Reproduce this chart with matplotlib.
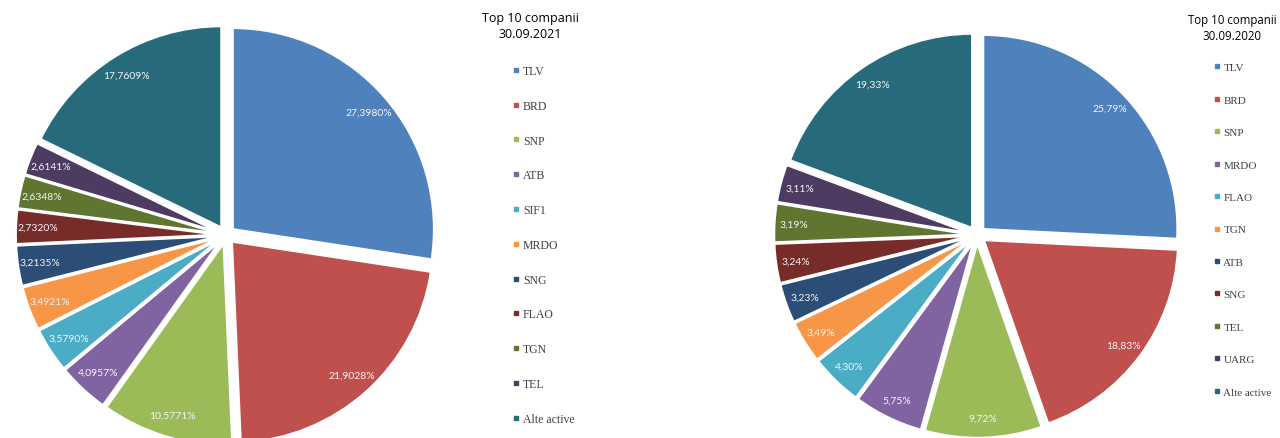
import matplotlib
matplotlib.use("Agg")
import matplotlib.pyplot as plt
from matplotlib.lines import Line2D

# Top 10 companii la 30.09.2021
labels_2021 = ['TLV', 'BRD', 'SNP', 'ATB', 'SIF1', 'MRDO', 'SNG', 'FLAO', 'TGN', 'TEL', 'Alte active']
values_2021 = [27.3980, 21.9028, 10.5771, 4.0957, 3.5790, 3.4921, 3.2135, 2.7320, 2.6348, 2.6141, 17.7609]
pct_2021 = ['27,3980%', '21,9028%', '10,5771%', '4,0957%', '3,5790%', '3,4921%',
            '3,2135%', '2,7320%', '2,6348%', '2,6141%', '17,7609%']

# Top 10 companii la 30.09.2020
labels_2020 = ['TLV', 'BRD', 'SNP', 'MRDO', 'FLAO', 'TGN', 'ATB', 'SNG', 'TEL', 'UARG', 'Alte active']
values_2020 = [25.79, 18.83, 9.72, 5.75, 4.30, 3.49, 3.23, 3.24, 3.19, 3.11, 19.33]
pct_2020 = ['25,79%', '18,83%', '9,72%', '5,75%', '4,30%', '3,49%',
            '3,23%', '3,24%', '3,19%', '3,11%', '19,33%']

# Excel 2007 palette
colors = ['#4F81BD', '#C0504D', '#9BBB59', '#8064A2', '#4BACC6', '#F79646',
          '#2C4D75', '#772C2A', '#5F7530', '#4D3B62', '#276A7C']

W, H = 1280, 439
fig = plt.figure(figsize=(W / 100, H / 100), dpi=100)


def make_pie(values, pct, cx, cy, r, pctdist):
    """Draw one exploded pie centred at pixel (cx, cy from top) with radius r px"""
    lim = 1.15
    size = 2 * lim * r
    ax = fig.add_axes([(cx - size / 2) / W, (H - cy - size / 2) / H, size / W, size / H])
    wedges, texts = ax.pie(values, colors=colors, startangle=90, counterclock=False,
                           explode=[0.045] * len(values), labels=pct, labeldistance=pctdist,
                           wedgeprops=dict(edgecolor='white', linewidth=1.4),
                           textprops=dict(color='#F4F4F4', fontsize=7.5, family='Lato'))
    for t in texts:
        t.set_horizontalalignment('center')
        t.set_verticalalignment('center')
    ax.set_xlim(-lim, lim)
    ax.set_ylim(-lim, lim)
    ax.set_aspect('equal')
    ax.axis('off')
    return wedges


def make_legend(labels, title, x, y_title, y_first, spacing_px, fontsize, title_x, title_fs):
    fig.text(title_x / W, 1 - y_title / H, title, ha='center', va='top',
             fontsize=title_fs, family='Open Sans', linespacing=1.25)
    handles = [Line2D([], [], marker='s', linestyle='none', markersize=3.2,
                      markerfacecolor=c, markeredgecolor=c) for c in colors]
    fs_px = fontsize * 100 / 72
    leg = fig.legend(handles, labels, loc='upper left',
                     bbox_to_anchor=(x / W, 1 - (y_first - fs_px * 0.6) / H),
                     bbox_transform=fig.transFigure, frameon=False,
                     prop=dict(family='Liberation Serif', size=fontsize),
                     labelspacing=(spacing_px - fs_px) / fs_px,
                     handlelength=0.4, handletextpad=0.35, borderpad=0, borderaxespad=0)
    for t in leg.get_texts():
        t.set_color('#404040')


make_pie(values_2021, pct_2021, 226, 236, 201, 0.89)
make_pie(values_2020, pct_2020, 977, 236, 194, 0.9)

make_legend(labels_2021, 'Top 10 companii\n30.09.2021', 514, 12, 73, 34.6, 8.5, 530, 9)
make_legend(labels_2020, 'Top 10 companii\n30.09.2020', 1215, 14, 70, 33.8, 8, 1232, 8.3)

fig.savefig('out.png', dpi=100)
